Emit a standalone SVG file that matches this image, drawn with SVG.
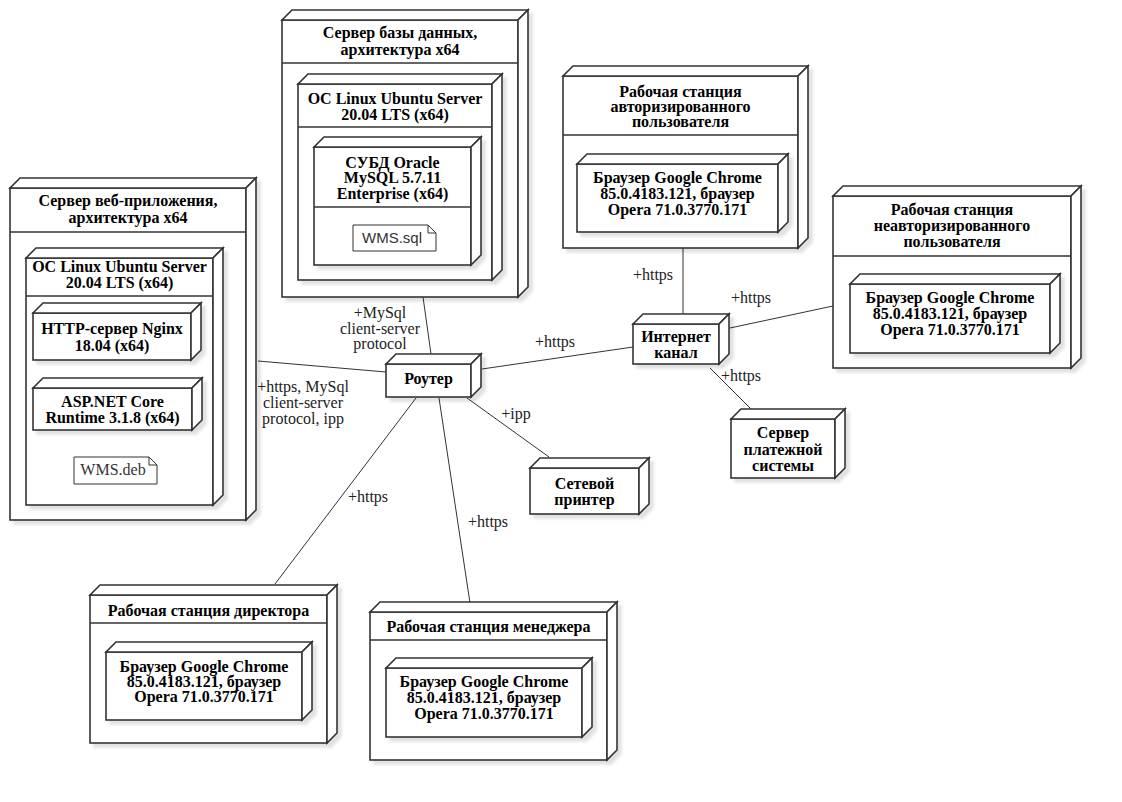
<svg xmlns="http://www.w3.org/2000/svg" width="1122" height="802" viewBox="0 0 1122 802">
<style>
.n{fill:#fff;stroke:#333;stroke-width:1.6;stroke-linejoin:miter}
.s{stroke:#333;stroke-width:1.6;fill:none}
.t{font-family:"Liberation Serif","Times New Roman",serif;font-weight:bold;font-size:16px;fill:#000;text-anchor:middle}
.l{font-family:"Liberation Serif","Times New Roman",serif;font-size:16px;fill:#222;text-anchor:middle}
.c{stroke:#333;stroke-width:1;fill:none}
.note{fill:#fff;stroke:#333;stroke-width:1}
.ns{font-family:"Liberation Sans",Arial,sans-serif;font-size:15px;fill:#333;text-anchor:middle}
.nr{font-family:"Liberation Serif","Times New Roman",serif;font-size:16px;fill:#333;text-anchor:middle}
</style>
<defs>
<filter id="sh" x="-10%" y="-10%" width="125%" height="125%">
<feGaussianBlur in="SourceAlpha" stdDeviation="1.5"/>
<feOffset dx="4" dy="4"/>
<feComponentTransfer><feFuncA type="linear" slope="0.12"/></feComponentTransfer>
<feMerge><feMergeNode/><feMergeNode in="SourceGraphic"/></feMerge>
</filter>
</defs>
<rect width="1122" height="802" fill="#fff"/>

<g id="connectors">
<line class="c" x1="258" y1="361" x2="386" y2="372"/>
<line class="c" x1="423" y1="297" x2="431" y2="354"/>
<line class="c" x1="482" y1="369" x2="633" y2="347"/>
<line class="c" x1="416" y1="398" x2="275" y2="584"/>
<line class="c" x1="439" y1="398" x2="470" y2="603"/>
<line class="c" x1="467" y1="398" x2="549" y2="457"/>
<line class="c" x1="683" y1="248" x2="683" y2="314"/>
<line class="c" x1="730" y1="328" x2="833" y2="306"/>
<line class="c" x1="710" y1="368" x2="751" y2="409"/>
<text class="l" x="380" y="318">+MySql</text>
<text class="l" x="380" y="334">client-server</text>
<text class="l" x="380" y="349">protocol</text>
<text class="l" x="303" y="392">+https, MySql</text>
<text class="l" x="303" y="408">client-server</text>
<text class="l" x="303" y="424">protocol, ipp</text>
<text class="l" x="555" y="347">+https</text>
<text class="l" x="368" y="502">+https</text>
<text class="l" x="488" y="527">+https</text>
<text class="l" x="516" y="419">+ipp</text>
<text class="l" x="653" y="280">+https</text>
<text class="l" x="751" y="303">+https</text>
<text class="l" x="741" y="381">+https</text>
</g>

<g id="web-server">
<g filter="url(#sh)">
<rect class="n" x="10" y="188" width="236" height="332"/>
<polygon class="n" points="10,188 20,178 256,178 246,188"/>
<polygon class="n" points="246,188 256,178 256,510 246,520"/>
</g>
<line class="s" x1="10" y1="232" x2="246" y2="232"/>
<text class="t" x="128" y="206">Сервер веб-приложения,</text>
<text class="t" x="128" y="223">архитектура x64</text>
</g>

<g id="web-os">
<g filter="url(#sh)">
<rect class="n" x="26" y="258" width="187" height="247"/>
<polygon class="n" points="26,258 36,248 223,248 213,258"/>
<polygon class="n" points="213,258 223,248 223,495 213,505"/>
</g>
<line class="s" x1="26" y1="296" x2="213" y2="296"/>
<text class="t" x="119.5" y="272">OC Linux Ubuntu Server</text>
<text class="t" x="119.5" y="288">20.04 LTS (x64)</text>
</g>

<g id="nginx">
<g filter="url(#sh)">
<rect class="n" x="33" y="313" width="158" height="47"/>
<polygon class="n" points="33,313 43,303 201,303 191,313"/>
<polygon class="n" points="191,313 201,303 201,350 191,360"/>
</g>
<text class="t" x="112" y="334">HTTP-сервер Nginx</text>
<text class="t" x="112" y="351">18.04 (x64)</text>
</g>

<g id="aspnet">
<g filter="url(#sh)">
<rect class="n" x="33" y="388" width="159" height="42"/>
<polygon class="n" points="33,388 43,378 202,378 192,388"/>
<polygon class="n" points="192,388 202,378 202,420 192,430"/>
</g>
<text class="t" x="112.5" y="407">ASP.NET Core</text>
<text class="t" x="112.5" y="423">Runtime 3.1.8 (x64)</text>
</g>

<g id="wms-deb">
<path class="note" d="M74,457 H149 L157,465 V484 H74 Z M149,457 V465 H157"/>
<text class="nr" x="113" y="475">WMS.deb</text>
</g>

<g id="db-server">
<g filter="url(#sh)">
<rect class="n" x="282" y="20" width="236" height="277"/>
<polygon class="n" points="282,20 292,10 528,10 518,20"/>
<polygon class="n" points="518,20 528,10 528,287 518,297"/>
</g>
<line class="s" x1="282" y1="63" x2="518" y2="63"/>
<text class="t" x="400" y="38">Сервер базы данных,</text>
<text class="t" x="400" y="55">архитектура x64</text>
</g>

<g id="db-os">
<g filter="url(#sh)">
<rect class="n" x="298" y="84" width="194" height="196"/>
<polygon class="n" points="298,84 308,74 502,74 492,84"/>
<polygon class="n" points="492,84 502,74 502,270 492,280"/>
</g>
<line class="s" x1="298" y1="127" x2="492" y2="127"/>
<text class="t" x="395" y="104">OC Linux Ubuntu Server</text>
<text class="t" x="395" y="120">20.04 LTS (x64)</text>
</g>

<g id="dbms">
<g filter="url(#sh)">
<rect class="n" x="314" y="147" width="157" height="118"/>
<polygon class="n" points="314,147 324,137 481,137 471,147"/>
<polygon class="n" points="471,147 481,137 481,255 471,265"/>
</g>
<line class="s" x1="314" y1="207" x2="471" y2="207"/>
<text class="t" x="392.5" y="168">СУБД Oracle</text>
<text class="t" x="392.5" y="183">MySQL 5.7.11</text>
<text class="t" x="392.5" y="199">Enterprise (x64)</text>
</g>

<g id="wms-sql">
<path class="note" d="M353,225 H428 L436,233 V251 H353 Z M428,225 V233 H436"/>
<text class="ns" x="392" y="243">WMS.sql</text>
</g>

<g id="router">
<g filter="url(#sh)">
<rect class="n" x="386" y="364" width="85" height="33"/>
<polygon class="n" points="386,364 396,354 481,354 471,364"/>
<polygon class="n" points="471,364 481,354 481,387 471,397"/>
</g>
<text class="t" x="428.5" y="384">Роутер</text>
</g>

<g id="internet">
<g filter="url(#sh)">
<rect class="n" x="633" y="324" width="86" height="40"/>
<polygon class="n" points="633,324 643,314 729,314 719,324"/>
<polygon class="n" points="719,324 729,314 729,354 719,364"/>
</g>
<text class="t" x="676" y="342">Интернет</text>
<text class="t" x="676" y="358">канал</text>
</g>

<g id="printer">
<g filter="url(#sh)">
<rect class="n" x="530" y="468" width="109" height="46"/>
<polygon class="n" points="530,468 540,458 649,458 639,468"/>
<polygon class="n" points="639,468 649,458 649,504 639,514"/>
</g>
<text class="t" x="584.5" y="489">Сетевой</text>
<text class="t" x="584.5" y="505">принтер</text>
</g>

<g id="payment">
<g filter="url(#sh)">
<rect class="n" x="731" y="419" width="104" height="59"/>
<polygon class="n" points="731,419 741,409 845,409 835,419"/>
<polygon class="n" points="835,419 845,409 845,468 835,478"/>
</g>
<text class="t" x="783" y="438">Сервер</text>
<text class="t" x="783" y="455">платежной</text>
<text class="t" x="783" y="471">системы</text>
</g>

<g id="auth-ws">
<g filter="url(#sh)">
<rect class="n" x="563" y="76" width="235" height="172"/>
<polygon class="n" points="563,76 573,66 808,66 798,76"/>
<polygon class="n" points="798,76 808,66 808,238 798,248"/>
</g>
<line class="s" x1="563" y1="135" x2="798" y2="135"/>
<text class="t" x="680.5" y="97">Рабочая станция</text>
<text class="t" x="680.5" y="112">авторизированного</text>
<text class="t" x="680.5" y="127">пользователя</text>
</g>

<g id="auth-browser">
<g filter="url(#sh)">
<rect class="n" x="577" y="164" width="201" height="68"/>
<polygon class="n" points="577,164 587,154 788,154 778,164"/>
<polygon class="n" points="778,164 788,154 788,222 778,232"/>
</g>
<text class="t" x="677.5" y="183">Браузер Google Chrome</text>
<text class="t" x="677.5" y="199">85.0.4183.121, браузер</text>
<text class="t" x="677.5" y="215">Opera 71.0.3770.171</text>
</g>

<g id="unauth-ws">
<g filter="url(#sh)">
<rect class="n" x="833" y="196" width="238" height="172"/>
<polygon class="n" points="833,196 843,186 1081,186 1071,196"/>
<polygon class="n" points="1071,196 1081,186 1081,358 1071,368"/>
</g>
<line class="s" x1="833" y1="256" x2="1071" y2="256"/>
<text class="t" x="952" y="215">Рабочая станция</text>
<text class="t" x="952" y="231">неавторизированного</text>
<text class="t" x="952" y="247">пользователя</text>
</g>

<g id="unauth-browser">
<g filter="url(#sh)">
<rect class="n" x="850" y="284" width="200" height="69"/>
<polygon class="n" points="850,284 860,274 1060,274 1050,284"/>
<polygon class="n" points="1050,284 1060,274 1060,343 1050,353"/>
</g>
<text class="t" x="950" y="303">Браузер Google Chrome</text>
<text class="t" x="950" y="319">85.0.4183.121, браузер</text>
<text class="t" x="950" y="335">Opera 71.0.3770.171</text>
</g>

<g id="director-ws">
<g filter="url(#sh)">
<rect class="n" x="90" y="595" width="237" height="148"/>
<polygon class="n" points="90,595 100,585 337,585 327,595"/>
<polygon class="n" points="327,595 337,585 337,733 327,743"/>
</g>
<line class="s" x1="90" y1="623" x2="327" y2="623"/>
<text class="t" x="208.5" y="616">Рабочая станция директора</text>
</g>

<g id="director-browser">
<g filter="url(#sh)">
<rect class="n" x="106" y="652" width="196" height="68"/>
<polygon class="n" points="106,652 116,642 312,642 302,652"/>
<polygon class="n" points="302,652 312,642 312,710 302,720"/>
</g>
<text class="t" x="204" y="672">Браузер Google Chrome</text>
<text class="t" x="204" y="687">85.0.4183.121, браузер</text>
<text class="t" x="204" y="702">Opera 71.0.3770.171</text>
</g>

<g id="manager-ws">
<g filter="url(#sh)">
<rect class="n" x="370" y="612" width="237" height="148"/>
<polygon class="n" points="370,612 380,602 617,602 607,612"/>
<polygon class="n" points="607,612 617,602 617,750 607,760"/>
</g>
<line class="s" x1="370" y1="640" x2="607" y2="640"/>
<text class="t" x="488.5" y="632">Рабочая станция менеджера</text>
</g>

<g id="manager-browser">
<g filter="url(#sh)">
<rect class="n" x="386" y="668" width="196" height="69"/>
<polygon class="n" points="386,668 396,658 592,658 582,668"/>
<polygon class="n" points="582,668 592,658 592,727 582,737"/>
</g>
<text class="t" x="484" y="687">Браузер Google Chrome</text>
<text class="t" x="484" y="703">85.0.4183.121, браузер</text>
<text class="t" x="484" y="719">Opera 71.0.3770.171</text>
</g>
</svg>
